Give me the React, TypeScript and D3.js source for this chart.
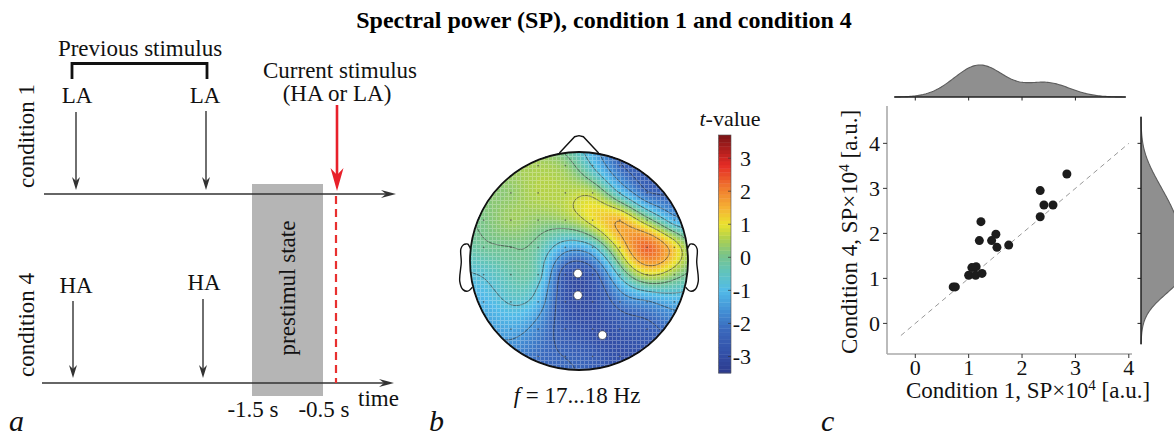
import React from "react";
import * as d3 from "d3";

const FONT = "'Liberation Serif', 'Times New Roman', serif";
const W = 1174;
const H = 439;

// ---- panel c: spectral power per subject (SP x 10^4, a.u.)
const cond1SP = [0.71, 0.75, 1.0, 1.06, 1.14, 1.13, 1.25, 1.2, 1.23, 1.43, 1.51, 1.53, 1.75, 2.34, 2.34, 2.41, 2.58, 2.84];
const cond4SP = [0.81, 0.81, 1.07, 1.24, 1.26, 1.07, 1.11, 1.84, 2.26, 1.84, 1.98, 1.69, 1.74, 2.95, 2.37, 2.63, 2.63, 3.32];
const spTicks = [0, 1, 2, 3, 4];

// ---- panel b: electrode layout (head radius = 1, y pointing back) and t-values
const elecX = [
  -0.625, -0.375, -0.125, 0.125, 0.375, 0.625,
  -0.875, -0.625, -0.375, -0.125, 0.125, 0.375, 0.625, 0.875,
  -0.875, -0.625, -0.375, -0.125, 0.125, 0.375, 0.625, 0.875,
  -0.875, -0.625, -0.375, -0.125, 0.125, 0.375, 0.625, 0.875,
  -0.875, -0.625, -0.375, -0.125, 0.125, 0.375, 0.625, 0.875,
  -0.875, -0.625, -0.375, -0.125, 0.125, 0.375, 0.625, 0.875,
  -0.875, -0.625, -0.375, -0.125, 0.125, 0.375, 0.625, 0.875,
  -0.625, -0.375, -0.125, 0.125, 0.375, 0.625,
  -0.01, -0.01, 0.215,
];
const elecY = [
  -0.875, -0.875, -0.875, -0.875, -0.875, -0.875,
  -0.625, -0.625, -0.625, -0.625, -0.625, -0.625, -0.625, -0.625,
  -0.375, -0.375, -0.375, -0.375, -0.375, -0.375, -0.375, -0.375,
  -0.125, -0.125, -0.125, -0.125, -0.125, -0.125, -0.125, -0.125,
  0.125, 0.125, 0.125, 0.125, 0.125, 0.125, 0.125, 0.125,
  0.375, 0.375, 0.375, 0.375, 0.375, 0.375, 0.375, 0.375,
  0.625, 0.625, 0.625, 0.625, 0.625, 0.625, 0.625, 0.625,
  0.875, 0.875, 0.875, 0.875, 0.875, 0.875,
  0.115, 0.315, 0.68,
];
const tValues = [
  0.4, 0.5, 0.3, -0.8, -2.2, -2.6,
  0.2, 0.3, 0.6, 0.6, 0.6, -0.8, -2.2, -2.4,
  0.1, 0.4, 0.3, 0.4, 1.0, 1.5, 0.3, -1.2,
  -0.1, 0.0, -0.2, -1.2, -0.9, 1.0, 2.3, 1.2,
  -0.7, -0.3, -0.5, -2.7, -2.6, -0.6, 0.8, 0.3,
  -1.1, -0.7, -1.1, -2.8, -2.9, -2.0, -1.6, -1.2,
  -1.5, -1.3, -1.8, -2.6, -2.9, -2.7, -2.5, -2.0,
  -1.8, -2.1, -2.3, -2.5, -2.9, -2.8,
  -2.9, -3.0, -3.0,
];
const sigElectrodes = [60, 61, 62];

// colour bar
const cbTicks = [-3, -2, -1, 0, 1, 2, 3];
const cbDomain = [-3.5, 3.7];
const jetVals = [-3.5, -2.9, -2.2, -1.6, -1.0, -0.4, 0.1, 0.6, 1.0, 1.5, 2.1, 2.8, 3.7];
const jetCols = ["#2c3a8c", "#3350a8", "#3a68bc", "#4391d6", "#52bbe8", "#62c4b8", "#7cc486", "#b3d24a", "#ebe22e", "#f5b234", "#f07a2e", "#e52a25", "#7a1416"];

// head outline (EEGLAB proportions, head radius 0.5)
const earX = [0.497, 0.51, 0.518, 0.5299, 0.5419, 0.54, 0.547, 0.532, 0.51, 0.489];
const earY = [0.0555, 0.0775, 0.0783, 0.0746, 0.0555, -0.0055, -0.0932, -0.1313, -0.1384, -0.1199];
const noseX = [0.09, 0.02, 0, -0.02, -0.09];
const noseY = [0.4954, 0.57, 0.575, 0.57, 0.4954];

const jet = d3.scaleLinear<string>().domain(jetVals).range(jetCols).clamp(true);

// thin plate spline through electrode values
function solve(A: number[][], b: number[]) {
  const n = b.length;
  const M = A.map((row, i) => [...row, b[i]]);
  for (let c = 0; c < n; c++) {
    let p = c;
    for (let r = c + 1; r < n; r++) if (Math.abs(M[r][c]) > Math.abs(M[p][c])) p = r;
    [M[c], M[p]] = [M[p], M[c]];
    for (let r = c + 1; r < n; r++) {
      const f = M[r][c] / M[c][c];
      for (let k = c; k <= n; k++) M[r][k] -= f * M[c][k];
    }
  }
  const x = new Array(n).fill(0);
  for (let r = n - 1; r >= 0; r--) {
    let s = M[r][n];
    for (let k = r + 1; k < n; k++) s -= M[r][k] * x[k];
    x[r] = s / M[r][r];
  }
  return x;
}

function tpsField() {
  const n = elecX.length;
  const phi = (r: number) => (r > 0 ? r * r * Math.log(r) : 0);
  const A: number[][] = [];
  for (let i = 0; i < n; i++) {
    const row = [];
    for (let j = 0; j < n; j++) row.push(phi(Math.hypot(elecX[i] - elecX[j], elecY[i] - elecY[j])));
    row.push(1, elecX[i], elecY[i]);
    A.push(row);
  }
  A.push([...elecX.map(() => 1), 0, 0, 0]);
  A.push([...elecX, 0, 0, 0]);
  A.push([...elecY, 0, 0, 0]);
  const w = solve(A, [...tValues, 0, 0, 0]);
  return (u: number, v: number) => {
    let s = w[n] + w[n + 1] * u + w[n + 2] * v;
    for (let i = 0; i < n; i++) s += w[i] * phi(Math.hypot(u - elecX[i], v - elecY[i]));
    return s;
  };
}

function kdeCurve(vals: number[], steps = 160) {
  const n = vals.length;
  const bw = (d3.deviation(vals) as number) * Math.pow(n, -0.2);
  const lo = (d3.min(vals) as number) - 3 * bw;
  const hi = (d3.max(vals) as number) + 3 * bw;
  return d3.range(steps + 1).map((i) => {
    const t = lo + ((hi - lo) * i) / steps;
    const d = (d3.mean(vals, (v) => Math.exp(-0.5 * ((t - v) / bw) ** 2)) as number) / (bw * Math.sqrt(2 * Math.PI));
    return [t, d] as [number, number];
  });
}

function Arrow({ x, y1, y2, color = "#333", width = 1.4, hl = 13, hw = 4 }: any) {
  return (
    <g>
      <line x1={x} y1={y1} x2={x} y2={y2 - hl * 0.6} stroke={color} strokeWidth={width} />
      <path d={`M${x},${y2} L${x - hw},${y2 - hl} L${x},${y2 - hl * 0.7} L${x + hw},${y2 - hl} Z`} fill={color} />
    </g>
  );
}

function TimeAxis({ y, x1, x2 }: any) {
  return (
    <g>
      <line x1={x1} y1={y} x2={x2 - 8} y2={y} stroke="#333" strokeWidth={1.6} />
      <path d={`M${x2},${y} L${x2 - 15},${y - 4} L${x2 - 10},${y} L${x2 - 15},${y + 4} Z`} fill="#333" />
    </g>
  );
}

function PanelA() {
  return (
    <g fontFamily={FONT} fontSize={23} fill="#111">
      <rect x={252} y={184} width={71} height={212} fill="#b5b5b5" />
      <text x={140} y={56} textAnchor="middle">Previous stimulus</text>
      <path d="M72,79 V63.5 H207 V79" fill="none" stroke="#111" strokeWidth={2.8} />
      <text x={77} y={103} textAnchor="middle">LA</text>
      <text x={205} y={103} textAnchor="middle">LA</text>
      <Arrow x={76} y1={112} y2={190} />
      <Arrow x={206} y1={111} y2={190} />
      <text x={340} y={78} textAnchor="middle">Current stimulus</text>
      <text x={337} y={101} textAnchor="middle">(HA or LA)</text>
      <TimeAxis y={194} x1={44} x2={396} />
      <text transform="translate(34,136) rotate(-90)" textAnchor="middle">condition 1</text>
      <text transform="translate(34,325) rotate(-90)" textAnchor="middle">condition 4</text>
      <text x={76} y={293} textAnchor="middle">HA</text>
      <text x={204} y={290} textAnchor="middle">HA</text>
      <Arrow x={73} y1={301} y2={378} />
      <Arrow x={203} y1={299} y2={378} />
      <TimeAxis y={383} x1={42} x2={394} />
      <text transform="translate(287,288) rotate(-90)" textAnchor="middle" dy="0.35em">prestimul state</text>
      <line x1={336} y1={196} x2={336} y2={383} stroke="#e8302f" strokeWidth={2.2} strokeDasharray="8,5" />
      <Arrow x={337} y1={105} y2={191} color="#e8202a" width={2.6} hl={23} hw={6.5} />
      <text x={253} y={417} textAnchor="middle">-1.5 s</text>
      <text x={324} y={417} textAnchor="middle">-0.5 s</text>
      <text x={358} y={406}>time</text>
      <text x={9} y={431} fontSize={30} fontStyle="italic">a</text>
    </g>
  );
}

function PanelB() {
  const cx = 579, cy = 261, R = 109;
  const field = tpsField();
  const N = 150, ext = 1.03;
  const cell = (2 * ext * R) / N;
  const values: number[] = new Array(N * N);
  const inside: number[] = [];
  for (let j = 0; j < N; j++)
    for (let i = 0; i < N; i++) {
      const u = -ext + ((i + 0.5) * 2 * ext) / N;
      const v = -ext + ((j + 0.5) * 2 * ext) / N;
      const f = field(u, v);
      values[j * N + i] = f;
      if (u * u + v * v <= 1) inside.push(f);
    }
  const vmin = d3.min(inside) as number, vmax = d3.max(inside) as number;
  const step = 0.06;
  const fillLevels = d3.range(-5, 5, step);
  const fills = d3.contours().size([N, N]).thresholds(fillLevels)(values);
  const lineLevels = d3.range(1, 7).map((k) => vmin + (k * (vmax - vmin)) / 7);
  const lines = d3.contours().size([N, N]).thresholds(lineLevels)(values);
  const path = d3.geoPath();
  const x0 = cx - ext * R, y0 = cy - ext * R;

  const ear = (side: number) =>
    d3.line<number>().x((_, i) => cx + side * earX[i] * 2 * R).y((_, i) => cy - earY[i] * 2 * R).curve(d3.curveCatmullRom)(earX);
  const nose = d3.line<number>().x((_, i) => cx + noseX[i] * 2 * R).y((_, i) => cy - noseY[i] * 2 * R)(noseX);

  const cb = d3.scaleLinear().domain(cbDomain).range([373, 135]);
  const nBands = 64;
  const bands = d3.range(nBands).map((k) => cbDomain[0] + ((k + 0.5) * (cbDomain[1] - cbDomain[0])) / nBands);
  const bandH = (373 - 135) / nBands;

  return (
    <g fontFamily={FONT} fontSize={23} fill="#111">
      <defs>
        <clipPath id="headClip">
          <circle cx={cx} cy={cy} r={R} />
        </clipPath>
        <pattern id="mesh" width={4} height={4} patternUnits="userSpaceOnUse">
          <path d="M0,0.5H4M0.5,0V4" stroke="#fff" strokeWidth={1} />
        </pattern>
      </defs>
      <g clipPath="url(#headClip)">
        <g transform={`translate(${x0},${y0}) scale(${cell})`}>
          {fills.map((c, k) => (
            <path key={k} d={path(c as any) || ""} fill={jet(c.value + step / 2)} />
          ))}
          {lines.map((c, k) => (
            <path key={k} d={path(c as any) || ""} fill="none" stroke="#333" strokeOpacity={0.85} strokeWidth={0.8} vectorEffect="non-scaling-stroke" />
          ))}
        </g>
        <rect x={cx - R} y={cy - R} width={2 * R} height={2 * R} fill="url(#mesh)" opacity={0.28} />
      </g>
      {elecX.map((u, i) =>
        Math.hypot(u, elecY[i]) < 0.97 && !sigElectrodes.includes(i) ? (
          <circle key={i} cx={cx + u * R} cy={cy + elecY[i] * R} r={0.8} fill="#444" opacity={0.7} />
        ) : null
      )}
      {sigElectrodes.map((i) => (
        <circle key={i} cx={cx + elecX[i] * R} cy={cy + elecY[i] * R} r={4.3} fill="#fff" stroke="#222" strokeWidth={0.6} />
      ))}
      <circle cx={cx} cy={cy} r={R} fill="none" stroke="#111" strokeWidth={1.8} />
      <path d={ear(-1) || ""} fill="none" stroke="#111" strokeWidth={1.4} />
      <path d={ear(1) || ""} fill="none" stroke="#111" strokeWidth={1.4} />
      <path d={nose || ""} fill="none" stroke="#111" strokeWidth={1.4} />
      <text x={577} y={403} textAnchor="middle">
        <tspan fontStyle="italic">f</tspan> = 17...18 Hz
      </text>

      {bands.map((v, k) => (
        <rect key={k} x={718.5} y={373 - (k + 1) * bandH} width={12.5} height={bandH + 0.4} fill={jet(v)} />
      ))}
      <rect x={718.5} y={135} width={12.5} height={238} fill="none" stroke="#555" strokeWidth={0.6} />
      {cbTicks.map((t) => (
        <g key={t}>
          <line x1={728} x2={731} y1={cb(t)} y2={cb(t)} stroke="#333" strokeWidth={0.7} />
          <text x={751} y={cb(t)} dy="0.35em" textAnchor="end" fontSize={22}>{t}</text>
        </g>
      ))}
      <text x={730} y={126} textAnchor="middle" fontSize={22}>
        <tspan fontStyle="italic">t</tspan>-value
      </text>
      <text x={429} y={431} fontSize={30} fontStyle="italic">b</text>
    </g>
  );
}

function PanelC() {
  const x = d3.scaleLinear().domain([-0.53, 4.06]).range([887, 1132]);
  const y = d3.scaleLinear().domain([-0.68, 4.83]).range([354, 106]);
  const topBase = 97, rightBase = 1141;

  const topKde = kdeCurve(cond1SP);
  const topH = d3.scaleLinear().domain([0, d3.max(topKde, (d) => d[1]) as number]).range([0, 32]);
  const topArea = d3.area<[number, number]>().x((d) => x(d[0])).y0(topBase).y1((d) => topBase - topH(d[1]));
  const topLine = d3.line<[number, number]>().x((d) => x(d[0])).y((d) => topBase - topH(d[1]));

  const rightKde = kdeCurve(cond4SP);
  const rightW = d3.scaleLinear().domain([0, d3.max(rightKde, (d) => d[1]) as number]).range([0, 45]);
  const rightArea = d3.area<[number, number]>().y((d) => y(d[0])).x0(rightBase).x1((d) => rightBase + rightW(d[1]));
  const rightLine = d3.line<[number, number]>().y((d) => y(d[0])).x((d) => rightBase + rightW(d[1]));

  const tLo = topKde[0][0], tHi = topKde[topKde.length - 1][0];
  const rLo = rightKde[0][0], rHi = rightKde[rightKde.length - 1][0];

  return (
    <g fontFamily={FONT} fontSize={23} fill="#111">
      {/* marginal densities */}
      <path d={topArea(topKde) || ""} fill="#8f8f8f" />
      <path d={topLine(topKde) || ""} fill="none" stroke="#5c5c5c" strokeWidth={1.1} />
      <line x1={x(tLo)} x2={x(tHi)} y1={topBase} y2={topBase} stroke="#222" strokeWidth={1.5} />
      {spTicks.filter((t) => x(t) < x(tHi)).map((t) => (
        <line key={t} x1={x(t)} x2={x(t)} y1={topBase} y2={topBase + 3.5} stroke="#222" strokeWidth={1} />
      ))}
      <path d={rightArea(rightKde) || ""} fill="#8f8f8f" />
      <path d={rightLine(rightKde) || ""} fill="none" stroke="#5c5c5c" strokeWidth={1.1} />
      <line x1={rightBase} x2={rightBase} y1={y(rLo)} y2={y(rHi)} stroke="#222" strokeWidth={1.5} />
      {spTicks.map((t) => (
        <line key={t} x1={rightBase - 3.5} x2={rightBase} y1={y(t)} y2={y(t)} stroke="#222" strokeWidth={1} />
      ))}

      {/* joint axes */}
      <line x1={x(-0.53)} x2={x(-0.53)} y1={y(4.83)} y2={y(-0.68)} stroke="#aaa" strokeWidth={1.6} />
      <line x1={x(-0.53)} x2={x(4.06)} y1={y(-0.68)} y2={y(-0.68)} stroke="#aaa" strokeWidth={1.6} />
      {spTicks.map((t) => (
        <g key={t}>
          <line x1={x(t)} x2={x(t)} y1={354} y2={358} stroke="#333" strokeWidth={1} />
          <text x={x(t)} y={375} textAnchor="middle" fontSize={22}>{t}</text>
          <line x1={883} x2={887} y1={y(t)} y2={y(t)} stroke="#333" strokeWidth={1} />
          <text x={880} y={y(t)} dy="0.35em" textAnchor="end" fontSize={22}>{t}</text>
        </g>
      ))}
      <line x1={x(-0.27)} y1={y(-0.27)} x2={x(4.0)} y2={y(4.0)} stroke="#999" strokeWidth={1} strokeDasharray="5,4" />
      {cond1SP.map((v, i) => (
        <circle key={i} cx={x(v)} cy={y(cond4SP[i])} r={4.5} fill="#1c1c1c" />
      ))}
      <text x={1028} y={398} textAnchor="middle">
        Condition 1, SP×10<tspan dy={-8} fontSize={15}>4</tspan>
        <tspan dy={8}> [a.u.]</tspan>
      </text>
      <text transform="translate(857,232) rotate(-90)" textAnchor="middle">
        Condition 4, SP×10<tspan dy={-8} fontSize={15}>4</tspan>
        <tspan dy={8}> [a.u.]</tspan>
      </text>
      <text x={821} y={431} fontSize={30} fontStyle="italic">c</text>
    </g>
  );
}

export default function App() {
  return (
    <svg width={W} height={H} style={{ position: "absolute", left: 0, top: 0, background: "#fff" }}>
      <text x={604} y={28} textAnchor="middle" fontFamily={FONT} fontWeight="bold" fontSize={24}>
        Spectral power (SP), condition 1 and condition 4
      </text>
      <PanelA />
      <PanelB />
      <PanelC />
    </svg>
  );
}
